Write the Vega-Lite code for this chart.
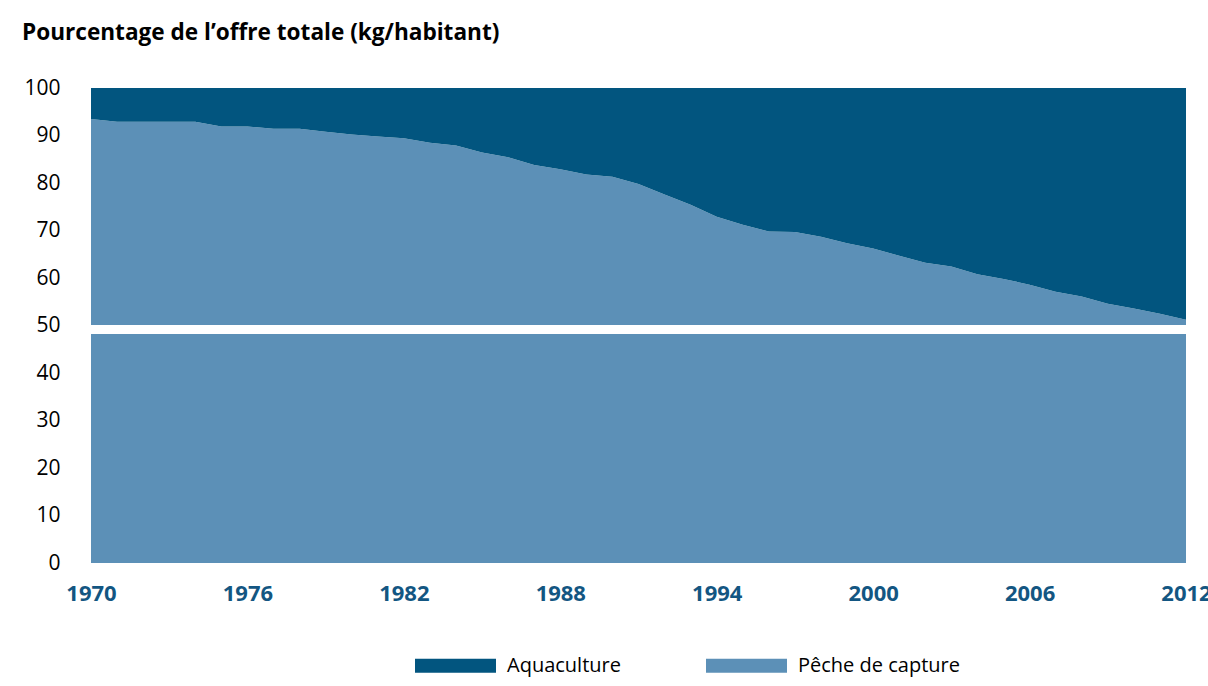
{
  "$schema": "https://vega.github.io/schema/vega-lite/v6.json",
  "width": 1095,
  "height": 475,
  "autosize": {"type": "none"},
  "padding": {"left": 91, "top": 88, "right": 22, "bottom": 123},
  "background": "white",
  "title": {"text": "Pourcentage de l’offre totale (kg/habitant)", "anchor": "start", "frame": "group", "dx": -69, "offset": 14, "baseline": "alphabetic", "font": "Open Sans", "fontSize": 22.6, "fontWeight": "bold", "color": "#000000"},
  "config": {"view": {"stroke": null}, "font": "Open Sans"},
  "data": {"values": [
    {"year": 1970, "type": "Pêche de capture", "share": 93.5}, {"year": 1970, "type": "Aquaculture", "share": 6.5},
    {"year": 1971, "type": "Pêche de capture", "share": 92.9}, {"year": 1971, "type": "Aquaculture", "share": 7.1},
    {"year": 1972, "type": "Pêche de capture", "share": 92.9}, {"year": 1972, "type": "Aquaculture", "share": 7.1},
    {"year": 1973, "type": "Pêche de capture", "share": 92.9}, {"year": 1973, "type": "Aquaculture", "share": 7.1},
    {"year": 1974, "type": "Pêche de capture", "share": 92.9}, {"year": 1974, "type": "Aquaculture", "share": 7.1},
    {"year": 1975, "type": "Pêche de capture", "share": 91.9}, {"year": 1975, "type": "Aquaculture", "share": 8.1},
    {"year": 1976, "type": "Pêche de capture", "share": 91.9}, {"year": 1976, "type": "Aquaculture", "share": 8.1},
    {"year": 1977, "type": "Pêche de capture", "share": 91.4}, {"year": 1977, "type": "Aquaculture", "share": 8.6},
    {"year": 1978, "type": "Pêche de capture", "share": 91.4}, {"year": 1978, "type": "Aquaculture", "share": 8.6},
    {"year": 1979, "type": "Pêche de capture", "share": 90.8}, {"year": 1979, "type": "Aquaculture", "share": 9.2},
    {"year": 1980, "type": "Pêche de capture", "share": 90.2}, {"year": 1980, "type": "Aquaculture", "share": 9.8},
    {"year": 1981, "type": "Pêche de capture", "share": 89.8}, {"year": 1981, "type": "Aquaculture", "share": 10.2},
    {"year": 1982, "type": "Pêche de capture", "share": 89.4}, {"year": 1982, "type": "Aquaculture", "share": 10.6},
    {"year": 1983, "type": "Pêche de capture", "share": 88.5}, {"year": 1983, "type": "Aquaculture", "share": 11.5},
    {"year": 1984, "type": "Pêche de capture", "share": 87.9}, {"year": 1984, "type": "Aquaculture", "share": 12.1},
    {"year": 1985, "type": "Pêche de capture", "share": 86.4}, {"year": 1985, "type": "Aquaculture", "share": 13.6},
    {"year": 1986, "type": "Pêche de capture", "share": 85.4}, {"year": 1986, "type": "Aquaculture", "share": 14.6},
    {"year": 1987, "type": "Pêche de capture", "share": 83.8}, {"year": 1987, "type": "Aquaculture", "share": 16.2},
    {"year": 1988, "type": "Pêche de capture", "share": 82.9}, {"year": 1988, "type": "Aquaculture", "share": 17.1},
    {"year": 1989, "type": "Pêche de capture", "share": 81.8}, {"year": 1989, "type": "Aquaculture", "share": 18.2},
    {"year": 1990, "type": "Pêche de capture", "share": 81.3}, {"year": 1990, "type": "Aquaculture", "share": 18.7},
    {"year": 1991, "type": "Pêche de capture", "share": 79.8}, {"year": 1991, "type": "Aquaculture", "share": 20.2},
    {"year": 1992, "type": "Pêche de capture", "share": 77.6}, {"year": 1992, "type": "Aquaculture", "share": 22.4},
    {"year": 1993, "type": "Pêche de capture", "share": 75.4}, {"year": 1993, "type": "Aquaculture", "share": 24.6},
    {"year": 1994, "type": "Pêche de capture", "share": 72.9}, {"year": 1994, "type": "Aquaculture", "share": 27.1},
    {"year": 1995, "type": "Pêche de capture", "share": 71.2}, {"year": 1995, "type": "Aquaculture", "share": 28.8},
    {"year": 1996, "type": "Pêche de capture", "share": 69.8}, {"year": 1996, "type": "Aquaculture", "share": 30.2},
    {"year": 1997, "type": "Pêche de capture", "share": 69.7}, {"year": 1997, "type": "Aquaculture", "share": 30.3},
    {"year": 1998, "type": "Pêche de capture", "share": 68.7}, {"year": 1998, "type": "Aquaculture", "share": 31.3},
    {"year": 1999, "type": "Pêche de capture", "share": 67.3}, {"year": 1999, "type": "Aquaculture", "share": 32.7},
    {"year": 2000, "type": "Pêche de capture", "share": 66.2}, {"year": 2000, "type": "Aquaculture", "share": 33.8},
    {"year": 2001, "type": "Pêche de capture", "share": 64.7}, {"year": 2001, "type": "Aquaculture", "share": 35.3},
    {"year": 2002, "type": "Pêche de capture", "share": 63.2}, {"year": 2002, "type": "Aquaculture", "share": 36.8},
    {"year": 2003, "type": "Pêche de capture", "share": 62.4}, {"year": 2003, "type": "Aquaculture", "share": 37.6},
    {"year": 2004, "type": "Pêche de capture", "share": 60.8}, {"year": 2004, "type": "Aquaculture", "share": 39.2},
    {"year": 2005, "type": "Pêche de capture", "share": 59.8}, {"year": 2005, "type": "Aquaculture", "share": 40.2},
    {"year": 2006, "type": "Pêche de capture", "share": 58.6}, {"year": 2006, "type": "Aquaculture", "share": 41.4},
    {"year": 2007, "type": "Pêche de capture", "share": 57.1}, {"year": 2007, "type": "Aquaculture", "share": 42.9},
    {"year": 2008, "type": "Pêche de capture", "share": 56.1}, {"year": 2008, "type": "Aquaculture", "share": 43.9},
    {"year": 2009, "type": "Pêche de capture", "share": 54.6}, {"year": 2009, "type": "Aquaculture", "share": 45.4},
    {"year": 2010, "type": "Pêche de capture", "share": 53.6}, {"year": 2010, "type": "Aquaculture", "share": 46.4},
    {"year": 2011, "type": "Pêche de capture", "share": 52.5}, {"year": 2011, "type": "Aquaculture", "share": 47.5},
    {"year": 2012, "type": "Pêche de capture", "share": 51.2}, {"year": 2012, "type": "Aquaculture", "share": 48.8}
  ]},
  "layer": [
    {
      "mark": {"type": "area", "interpolate": "linear"},
      "encoding": {
        "x": {"field": "year", "type": "quantitative",
          "scale": {"domain": [1970, 2012], "nice": false, "zero": false},
          "axis": {"values": [1970, 1976, 1982, 1988, 1994, 2000, 2006, 2012], "format": "d", "title": null,
            "labelFont": "Open Sans", "labelFontSize": 22, "labelFontWeight": "bold", "labelColor": "#135682",
            "labelPadding": 20, "ticks": false, "domain": false, "grid": false,
            "labelFlush": false, "labelBound": false, "labelOverlap": false}},
        "y": {"field": "share", "type": "quantitative", "stack": "zero",
          "scale": {"domain": [0, 100], "nice": false},
          "axis": {"values": [0, 10, 20, 30, 40, 50, 60, 70, 80, 90, 100], "title": null,
            "labelFont": "Open Sans", "labelFontSize": 21, "labelColor": "#000000",
            "labelPadding": 31, "ticks": false, "domain": false, "grid": false}},
        "color": {"field": "type", "type": "nominal",
          "scale": {"domain": ["Aquaculture", "Pêche de capture"], "range": ["#02557f", "#5c90b7"]},
          "legend": {"orient": "none", "legendX": 324, "legendY": 537, "direction": "horizontal", "title": null,
            "symbolType": "M-1,-0.173H1V0.173H-1Z", "symbolSize": 6561, "symbolStrokeWidth": 0, "symbolOpacity": 1,
            "labelFont": "Open Sans", "labelFontSize": 20, "labelColor": "#000000", "labelOffset": 11, "labelLimit": 400,
            "columnPadding": 85, "padding": 0}},
        "order": {"field": "type", "sort": "descending"}
      }
    },
    {
      "mark": {"type": "rule", "color": "white", "strokeWidth": 8, "yOffset": 4},
      "encoding": {"y": {"datum": 50}}
    }
  ]
}
